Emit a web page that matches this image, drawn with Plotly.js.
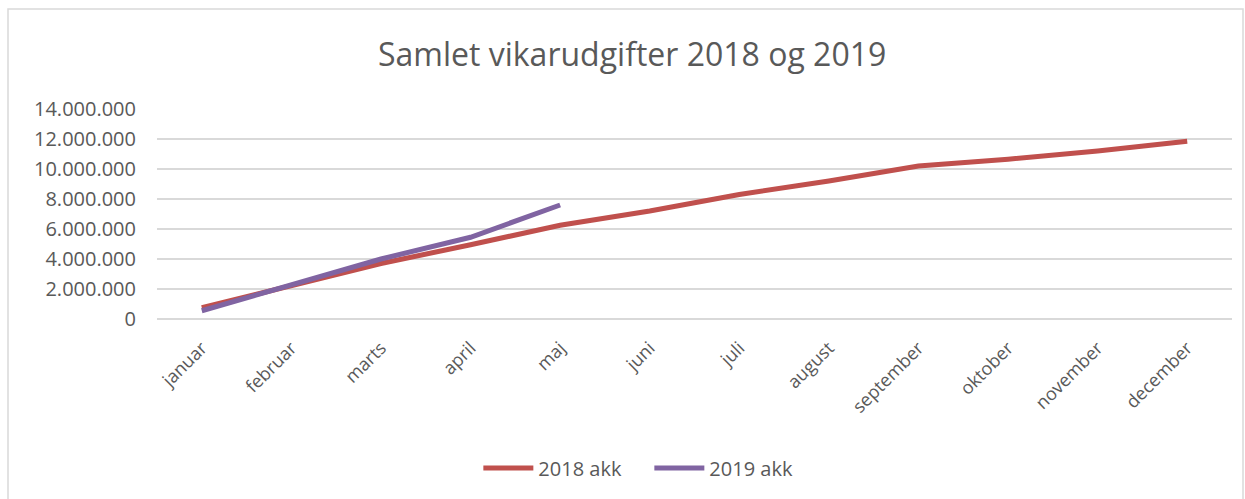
<!DOCTYPE html>
<html>
<head>
<meta charset="utf-8">
<script src="https://cdn.plot.ly/plotly-3.0.1.min.js"></script>
<style>
html, body { margin: 0; padding: 0; background: #ffffff; }
#chart { width: 1245px; height: 499px; }
</style>
</head>
<body>
<div id="chart"></div>
<script>
const months = ["januar", "februar", "marts", "april", "maj", "juni", "juli", "august", "september", "oktober", "november", "december"];
const akk2018 = [750000, 2200000, 3700000, 4950000, 6250000, 7200000, 8300000, 9200000, 10200000, 10650000, 11200000, 11850000];
const akk2019 = [550000, 2250000, 4000000, 5450000, 7600000];
const yTicks = [0, 2000000, 4000000, 6000000, 8000000, 10000000, 12000000, 14000000];

const textColor = "#595959";
const fontFamily = "Open Sans, Noto Sans, sans-serif";

const traces = [
  {
    type: "scatter", mode: "lines", name: "2018 akk",
    x: months, y: akk2018,
    line: { color: "#C0504D", width: 5, shape: "linear" }
  },
  {
    type: "scatter", mode: "lines", name: "2019 akk",
    x: months.slice(0, akk2019.length), y: akk2019,
    line: { color: "#8064A2", width: 5, shape: "linear" }
  }
];

const layout = {
  width: 1245, height: 499,
  paper_bgcolor: "#ffffff", plot_bgcolor: "#ffffff",
  separators: ",.",
  margin: { l: 157, r: 13, t: 109, b: 180 },
  font: { family: fontFamily, color: textColor, size: 18 },
  title: {
    text: "Samlet vikarudgifter 2018 og 2019",
    font: { family: fontFamily, size: 32, color: textColor },
    x: 0.442, xref: "paper", xanchor: "center",
    y: 0.89, yref: "container", yanchor: "middle"
  },
  xaxis: {
    type: "category",
    categoryorder: "array", categoryarray: months,
    range: [-0.5, 11.5],
    showgrid: false, showline: false, zeroline: false,
    ticks: "", tickangle: -45,
    ticklabelstandoff: 14,
    tickfont: { family: fontFamily, size: 18, color: textColor }
  },
  yaxis: {
    range: [0, 14000000],
    tickvals: yTicks,
    tickformat: ",d",
    showgrid: true, gridcolor: "#d9d9d9", gridwidth: 1.5,
    zeroline: true, zerolinecolor: "#d9d9d9", zerolinewidth: 1.5,
    showline: false, ticks: "",
    ticklabelstandoff: 20,
    tickfont: { family: fontFamily, size: 20, color: textColor }
  },
  showlegend: true,
  legend: {
    orientation: "h",
    x: 0.458, xanchor: "center", xref: "paper",
    y: -0.71, yanchor: "middle", yref: "paper",
    font: { family: fontFamily, size: 20, color: textColor },
    itemwidth: 50,
    entrywidth: 106, entrywidthmode: "pixels",
    bgcolor: "rgba(0,0,0,0)"
  },
  shapes: [
    {
      type: "rect", xref: "paper", yref: "paper",
      x0: (8 - 157) / 1075, x1: (1243 - 157) / 1075,
      y0: (319 - 520) / 210, y1: (319 - 9) / 210,
      line: { color: "#d9d9d9", width: 1.5 },
      fillcolor: "rgba(0,0,0,0)", layer: "below"
    }
  ]
};

Plotly.newPlot("chart", traces, layout, { displayModeBar: false, staticPlot: true });
</script>
</body>
</html>
